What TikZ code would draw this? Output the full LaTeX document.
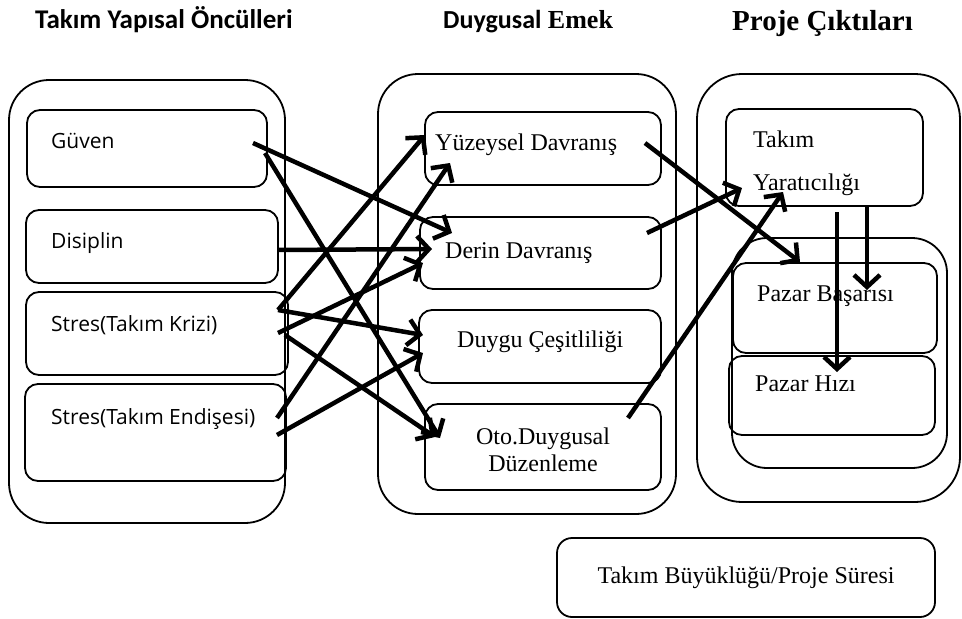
\documentclass[tikz,border=0pt]{standalone}
\usepackage{fontspec}
\setmainfont{Liberation Serif}
\newfontfamily\bodysans{Open Sans}
\newfontfamily\headsans{Carlito}
\usetikzlibrary{arrows.meta}

\begin{document}
\begin{tikzpicture}[x=1pt,y=-1pt,
  box/.style={draw, line width=1.8pt, inner sep=0pt, rounded corners=13pt},
  group/.style={box, rounded corners=40pt},
  sanslbl/.style={anchor=base west, inner sep=0pt, font=\bodysans\fontsize{21}{25}\selectfont},
  seriflbl/.style={anchor=base west, inner sep=0pt, font=\fontsize{24}{28}\selectfont},
  headlbl/.style={anchor=base west, inner sep=0pt},
  arr/.style={line width=4.5pt, -{Straight Barb[length=12pt,width=26pt]}},
]
\useasboundingbox (0,0) rectangle (962,619);

% group frames
\node[group, minimum width=276pt, minimum height=443pt] (leftgrp) at (147,301.5) {};
\node[group, minimum width=298pt, minimum height=440pt] (midgrp) at (527,294) {};
\node[group, rounded corners=45pt, minimum width=263pt, minimum height=428pt] (rightgrp) at (828.5,288) {};
\node[group, rounded corners=35pt, minimum width=215pt, minimum height=230pt] (pazargrp) at (839.5,353) {};

% antecedent boxes
\node[box, minimum width=240pt, minimum height=77pt] (guven) at (147,148.5) {};
\node[box, minimum width=252pt, minimum height=73pt] (disiplin) at (152,246.5) {};
\node[box, minimum width=262pt, minimum height=83pt] (kriz) at (157,333.5) {};
\node[box, minimum width=261pt, minimum height=97pt] (endise) at (155.5,432.5) {};

% emotional labour boxes
\node[box, minimum width=236pt, minimum height=73pt] (yuzey) at (543,148.5) {};
\node[box, minimum width=241pt, minimum height=72pt] (derin) at (540.5,253) {};
\node[box, minimum width=242pt, minimum height=73pt] (duygu) at (540,346.5) {};
\node[box, minimum width=236pt, minimum height=86pt] (oto) at (543,447) {};

% outcome boxes
\node[box, minimum width=197pt, minimum height=97pt] (yarat) at (824.5,157.5) {};
\node[box, minimum width=204pt, minimum height=90pt] (basari) at (835,308) {};
\node[box, minimum width=206pt, minimum height=79pt] (hiz) at (832,395.5) {};

% control variables
\node[box, rounded corners=15pt, minimum width=378pt, minimum height=79pt] (kontrol) at (746,577.5) {};

% headings
\node[headlbl] (h1) at (35,28) {\headsans\bfseries\fontsize{27}{30}\selectfont Takım Yapısal Öncülleri};
\node[headlbl] (h2) at (443,28) {\fontsize{26}{30}\selectfont{\headsans\bfseries Duygusal} \bfseries Emek};
\node[headlbl] (h3) at (732,30) {\bfseries\fontsize{29}{32}\selectfont Proje Çıktıları};

% labels
\node[sanslbl] (tguven) at (51,148) {Güven};
\node[sanslbl] (tdisiplin) at (51,248) {Disiplin};
\node[sanslbl] (tkriz) at (51,331) {Stres(Takım Krizi)};
\node[sanslbl] (tendise) at (51,424) {Stres(Takım Endişesi)};

\node[seriflbl] (tyuzey) at (435,150) {Yüzeysel Davranış};
\node[seriflbl] (tderin) at (445,258) {Derin Davranış};
\node[seriflbl] (tduygu) at (457,347) {Duygu Çeşitliliği};
\node[seriflbl, anchor=base] (toto1) at (543,444) {Oto.Duygusal};
\node[seriflbl, anchor=base] (toto2) at (543,471) {Düzenleme};

\node[seriflbl] (tyarat1) at (753,147) {Takım};
\node[seriflbl] (tyarat2) at (753,190) {Yaratıcılığı};
\node[seriflbl] (tbasari) at (757,301) {Pazar Başarısı};
\node[seriflbl] (thiz) at (755,391) {Pazar Hızı};
\node[seriflbl, anchor=base] (tkontrol) at (746,583) {Takım Büyüklüğü/Proje Süresi};

% connector end points
\coordinate (g1) at (253,143);  \coordinate (g2) at (265,153);
\coordinate (d1) at (278,250);
\coordinate (k1) at (278,310);  \coordinate (k2) at (278,333);  \coordinate (k3) at (285,335);
\coordinate (e1) at (277,418);  \coordinate (e2) at (277,435);
\coordinate (yz1) at (425,135); \coordinate (yz2) at (450,163); \coordinate (yz3) at (645,143);
\coordinate (dr1) at (452,233); \coordinate (dr2) at (432,249); \coordinate (dr3) at (423,263); \coordinate (dr4) at (647,233);
\coordinate (dc1) at (423,335); \coordinate (dc2) at (423,353);
\coordinate (ot1) at (440,438); \coordinate (ot2) at (435,437); \coordinate (ot3) at (628,418);
\coordinate (yr1) at (742,188); \coordinate (yr2) at (783,192); \coordinate (yr3) at (867,207); \coordinate (yr4) at (837,212);
\coordinate (bs1) at (800,262); \coordinate (bs2) at (867,290);
\coordinate (hz1) at (837,372);

% antecedents -> emotional labour
\draw[arr] (g1) -- (dr1);
\draw[arr] (g2) -- (ot1);
\draw[arr] (d1) -- (dr2);
\draw[arr] (k1) -- (yz1);
\draw[arr] (k2) -- (dr3);
\draw[arr] (k1) -- (dc1);
\draw[arr] (k3) -- (ot2);
\draw[arr] (e1) -- (yz2);
\draw[arr] (e2) -- (dc2);

% emotional labour -> outcomes
\draw[arr] (yz3) -- (bs1);
\draw[arr] (dr4) -- (yr1);
\draw[arr] (ot3) -- (yr2);
\draw[arr] (yr3) -- (bs2);
\draw[arr] (yr4) -- (hz1);
\end{tikzpicture}
\end{document}
